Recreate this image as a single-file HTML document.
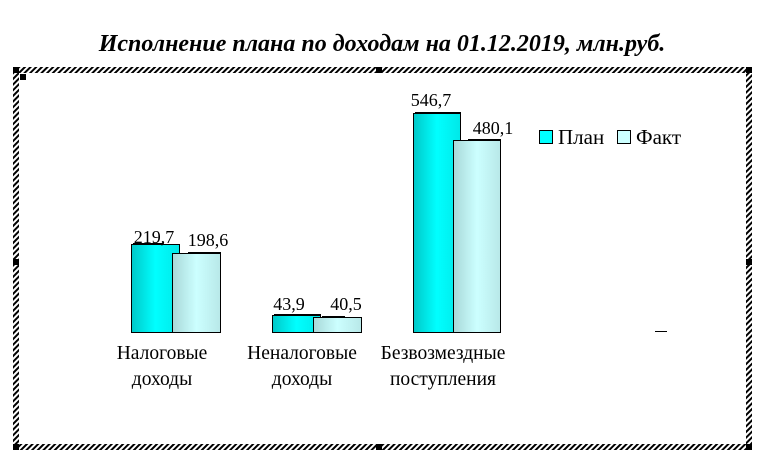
<!DOCTYPE html>
<html><head><meta charset="utf-8"><style>
body{margin:0;background:#fff;width:765px;height:455px;overflow:hidden}
svg text{font-family:"Liberation Serif",serif;fill:#000}
</style></head><body>
<svg width="765" height="455" viewBox="0 0 765 455">
<defs>
<pattern id="h" width="4" height="4" patternUnits="userSpaceOnUse" patternTransform="rotate(45)">
<rect width="2" height="4" fill="#000"/></pattern>
<linearGradient id="p" x1="0" x2="1"><stop offset="0" stop-color="#00c8c8"/><stop offset="0.5" stop-color="#00ffff"/><stop offset="1" stop-color="#00e8e8"/></linearGradient>
<linearGradient id="f" x1="0" x2="1"><stop offset="0" stop-color="#a8d8d8"/><stop offset="0.5" stop-color="#ccffff"/><stop offset="1" stop-color="#b8e8e8"/></linearGradient>
</defs>
<text x="382" y="51" font-size="24" font-weight="bold" font-style="italic" text-anchor="middle">Исполнение плана по доходам на 01.12.2019, млн.руб.</text>
<path d="M13,67H752V450H13Z M19,73V444H746V73Z" fill="url(#h)" fill-rule="evenodd"/>
<g fill="#000">
<rect x="13" y="67" width="6" height="6"/><rect x="376" y="67" width="6" height="6"/><rect x="746" y="67" width="6" height="6"/>
<rect x="13" y="259" width="6" height="6"/><rect x="746" y="259" width="6" height="6"/>
<rect x="13" y="444" width="6" height="6"/><rect x="376" y="444" width="6" height="6"/><rect x="746" y="444" width="6" height="6"/>
<rect x="20" y="74" width="6" height="6"/>
</g>
<g stroke="#000" stroke-width="1">
<rect x="131.5" y="244.5" width="48" height="88" fill="url(#p)"/>
<rect x="172.5" y="253.5" width="48" height="79" fill="url(#f)"/>
<rect x="272.5" y="315.5" width="48" height="17" fill="url(#p)"/>
<rect x="313.5" y="317.5" width="48" height="15" fill="url(#f)"/>
<rect x="413.5" y="113.5" width="47" height="219" fill="url(#p)"/>
<rect x="453.5" y="140.5" width="47" height="192" fill="url(#f)"/>
<line x1="655" y1="331.5" x2="667" y2="331.5"/>
</g>
<g stroke="#000" stroke-width="2">
<line x1="133" y1="244" x2="163" y2="244"/><line x1="188" y1="253" x2="221" y2="253"/>
<line x1="274" y1="315" x2="321" y2="315"/><line x1="322" y1="317" x2="345" y2="317"/>
<line x1="415" y1="113" x2="461" y2="113"/><line x1="468" y1="140" x2="501" y2="140"/>
</g>
<g font-size="18" text-anchor="middle">
<text x="154" y="243">219,7</text><text x="208" y="246">198,6</text>
<text x="289" y="310">43,9</text><text x="346" y="310">40,5</text>
<text x="431" y="106">546,7</text><text x="493" y="134">480,1</text>
</g>
<g font-size="19.5" text-anchor="middle">
<text x="162" y="359">Налоговые</text><text x="162" y="385">доходы</text>
<text x="302" y="359">Неналоговые</text><text x="302" y="385">доходы</text>
<text x="443" y="359">Безвозмездные</text><text x="443" y="385">поступления</text>
</g>
<rect x="539.5" y="130.5" width="13" height="13" fill="#00ffff" stroke="#000"/>
<text x="558" y="144" font-size="21">План</text>
<rect x="617.5" y="130.5" width="13" height="13" fill="#ccffff" stroke="#000"/>
<text x="636" y="144" font-size="21">Факт</text>
</svg>
</body></html>
